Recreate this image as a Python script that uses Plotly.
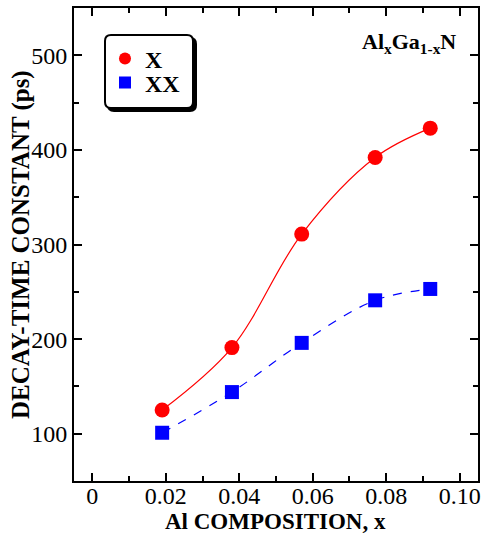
import plotly.graph_objects as go

al_x = [0.019, 0.038, 0.057, 0.077, 0.092]
decay_x = [125, 191, 311, 392, 423]
decay_xx = [101, 144, 196, 241, 253]
x_ticks = [0, 0.02, 0.04, 0.06, 0.08, 0.10]
x_tick_text = ["0", "0.02", "0.04", "0.06", "0.08", "0.10"]
y_ticks = [100, 200, 300, 400, 500]

FONT = "Liberation Serif"
FW, FH = 481, 538           # figure size
L, R, T, B = 74, 3, 8, 57   # margins (px)
W, H = FW - L - R, FH - T - B

def px(xp):  # page px -> paper
    return (xp - L) / W

def py(yp):
    return 1 - (yp - T) / H

fig = go.Figure()
# fitted curves (lines only)
fig.add_trace(go.Scatter(x=al_x, y=decay_x, mode="lines", showlegend=False,
                         line=dict(color="red", width=1.2, shape="spline", smoothing=1.0)))
fig.add_trace(go.Scatter(x=al_x, y=decay_xx, mode="lines", showlegend=False,
                         line=dict(color="blue", width=1.2, dash="dash", shape="spline", smoothing=1.0)))
# data points
fig.add_trace(go.Scatter(x=al_x, y=decay_x, mode="markers", name="<b>X</b>", legend="legend",
                         marker=dict(symbol="circle", size=15, color="red")))
fig.add_trace(go.Scatter(x=al_x, y=decay_xx, mode="markers", name="<b>XX</b>", legend="legend2",
                         marker=dict(symbol="square", size=14, color="blue")))

axis_common = dict(showline=True, linecolor="black", linewidth=2, mirror="ticks",
                   ticks="inside", ticklen=8, tickwidth=2, tickcolor="black",
                   showgrid=False, zeroline=False, automargin=False,
                   tickfont=dict(family=FONT, size=24, color="black"))

fig.update_xaxes(range=[-0.005, 0.105], tickmode="array", tickvals=x_ticks, ticktext=x_tick_text,
                 ticklabelstandoff=-8,
                 minor=dict(dtick=0.01, tick0=0, ticks="inside", ticklen=5, tickwidth=2, tickcolor="black"),
                 **axis_common)
fig.update_yaxes(range=[50, 550], tickmode="array", tickvals=y_ticks,
                 minor=dict(dtick=50, tick0=50, ticks="inside", ticklen=5, tickwidth=2, tickcolor="black"),
                 **axis_common)

leg_common = dict(xanchor="left", yanchor="middle", bgcolor="rgba(0,0,0,0)", borderwidth=0,
                  font=dict(family=FONT, size=24, color="black"), itemsizing="constant")

fig.update_layout(
    width=FW, height=FH,
    margin=dict(l=L, r=R, t=T, b=B),
    paper_bgcolor="white", plot_bgcolor="white",
    showlegend=True,
    legend=dict(x=px(105), y=py(59), **leg_common),
    legend2=dict(x=px(105), y=py(83), **leg_common),
    annotations=[
        dict(text="<b>Al<sub>x</sub>Ga<sub>1-x</sub>N</b>", xref="paper", yref="paper",
             x=px(458), y=py(43), xanchor="right", yanchor="middle", showarrow=False,
             font=dict(family=FONT, size=22, color="black")),
        dict(text="<b>Al COMPOSITION, x</b>", xref="paper", yref="paper",
             x=px(275), y=py(521), xanchor="center", yanchor="middle", showarrow=False,
             font=dict(family=FONT, size=23, color="black")),
        dict(text="<b>DECAY-TIME CONSTANT (ps)</b>", xref="paper", yref="paper",
             x=px(21), y=py(245), xanchor="center", yanchor="middle", showarrow=False, textangle=-90,
             font=dict(family=FONT, size=25, color="black")),
    ],
)

def rounded(x0, y0, x1, y1, r):
    return (f"M {px(x0+r)},{py(y0)} L {px(x1-r)},{py(y0)} Q {px(x1)},{py(y0)} {px(x1)},{py(y0+r)} "
            f"L {px(x1)},{py(y1-r)} Q {px(x1)},{py(y1)} {px(x1-r)},{py(y1)} "
            f"L {px(x0+r)},{py(y1)} Q {px(x0)},{py(y1)} {px(x0)},{py(y1-r)} "
            f"L {px(x0)},{py(y0+r)} Q {px(x0)},{py(y0)} {px(x0+r)},{py(y0)} Z")

fig.add_shape(type="path", xref="paper", yref="paper", path=rounded(108, 38, 196, 111, 6),
              fillcolor="black", line=dict(color="black", width=2), layer="below")
fig.add_shape(type="path", xref="paper", yref="paper", path=rounded(105, 35, 193, 108, 6),
              fillcolor="white", line=dict(color="black", width=2), layer="below")

fig.write_html("out.html", config={"displayModeBar": False},
               post_script="document.body.style.margin='0';document.body.style.overflow='hidden';")
